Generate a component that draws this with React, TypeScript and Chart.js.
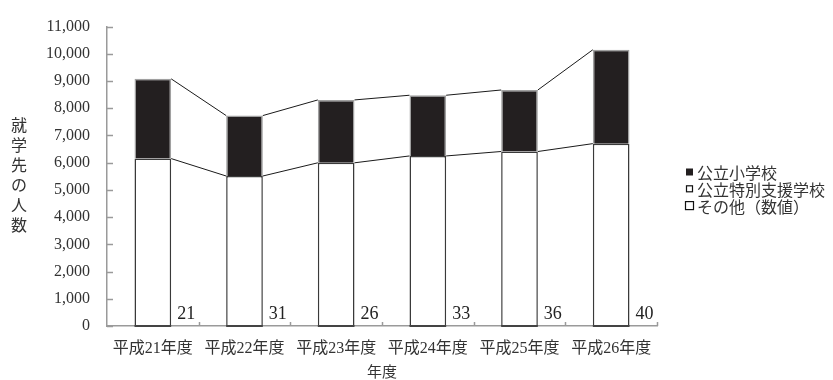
import React, { useEffect, useRef } from "react";
import { Chart, registerables } from "chart.js";

Chart.register(...registerables);

const categories = ["平成21年度", "平成22年度", "平成23年度", "平成24年度", "平成25年度", "平成26年度"];
const otherValues = [21, 31, 26, 33, 36, 40];
const specialSchoolValues = [6130, 5480, 5970, 6215, 6375, 6660];
const elementarySchoolValues = [2930, 2220, 2310, 2230, 2260, 3450];
const seriesNames = ["その他（数値）", "公立特別支援学校", "公立小学校"];
const yTitle = "就学先の人数";
const xTitle = "年度";

const SERIF = "'Liberation Serif', 'Noto Sans CJK JP', serif";
const SANS_JP = "'Noto Sans CJK JP', sans-serif";

const seriesLinesPlugin = {
  id: "seriesLines",
  afterDatasetsDraw(chart: any) {
    const ctx = chart.ctx;
    ctx.save();
    ctx.strokeStyle = "#1a1a1a";
    ctx.lineWidth = 1;
    [1, 2].forEach((di) => {
      const meta = chart.getDatasetMeta(di);
      for (let i = 0; i < meta.data.length - 1; i++) {
        const a = meta.data[i];
        const b = meta.data[i + 1];
        ctx.beginPath();
        ctx.moveTo(a.x + a.width / 2, a.y);
        ctx.lineTo(b.x - b.width / 2, b.y);
        ctx.stroke();
      }
    });
    const yBase = chart.scales.y.getPixelForValue(0);
    // dark base edge of the tiny "その他" segment
    const meta0 = chart.getDatasetMeta(0);
    ctx.strokeStyle = "#444";
    ctx.lineWidth = 2;
    meta0.data.forEach((el: any) => {
      ctx.beginPath();
      ctx.moveTo(el.x - el.width / 2, yBase);
      ctx.lineTo(el.x + el.width / 2, yBase);
      ctx.stroke();
    });
    // value labels for その他
    ctx.fillStyle = "#222";
    ctx.font = "18px " + SERIF;
    ctx.textAlign = "left";
    ctx.textBaseline = "alphabetic";
    meta0.data.forEach((el: any, i: number) => {
      ctx.fillText(String(otherValues[i]), el.x + el.width / 2 + 6, yBase - 7);
    });
    ctx.restore();
  },
};

const axisDecorPlugin = {
  id: "axisDecor",
  afterDraw(chart: any) {
    const ctx = chart.ctx;
    const { left, right, bottom } = chart.chartArea;
    const y = chart.scales.y;
    ctx.save();
    ctx.strokeStyle = "#9a9a9a";
    ctx.lineWidth = 1.5;
    y.ticks.forEach((t: any) => {
      const py = Math.round(y.getPixelForValue(t.value)) + 0.5;
      ctx.beginPath();
      ctx.moveTo(left, py);
      ctx.lineTo(left + 6, py);
      ctx.stroke();
    });
    const n = categories.length;
    const w = (right - left) / n;
    for (let i = 1; i <= n; i++) {
      const px = Math.round(left + w * i) + 0.5;
      ctx.beginPath();
      ctx.moveTo(px, bottom);
      ctx.lineTo(px, bottom - 4);
      ctx.stroke();
    }
    ctx.fillStyle = "#333";
    ctx.font = "16px " + SANS_JP;
    ctx.textAlign = "center";
    ctx.textBaseline = "middle";
    Array.from(yTitle).forEach((ch, i) => {
      ctx.fillText(ch, 19, 125 + i * 20);
    });
    const items = [2, 1, 0];
    ctx.font = "16px " + SANS_JP;
    ctx.textAlign = "left";
    items.forEach((di, k) => {
      const ds = chart.data.datasets[di];
      const cy = 172 + k * 16.8;
      const size = di === 0 ? 9 : 7;
      const bx = 686 - (di === 0 ? 1 : 0);
      ctx.fillStyle = ds.backgroundColor;
      ctx.fillRect(bx, cy - size / 2, size, size);
      if (di !== 2) {
        ctx.strokeStyle = "#111";
        ctx.lineWidth = 1.2;
        ctx.strokeRect(bx + 0.5, cy - size / 2 + 0.5, size - 1, size - 1);
      }
      ctx.fillStyle = "#333";
      ctx.fillText(ds.label, 697, cy + 1);
    });
    ctx.restore();
  },
};

export default function App() {
  const ref = useRef<HTMLCanvasElement | null>(null);
  useEffect(() => {
    let chart: any = null;
    let cancelled = false;
    const build = () => {
      if (cancelled || !ref.current) return;
      chart = new Chart(ref.current, {
        type: "bar",
        data: {
          labels: categories,
          datasets: [
            {
              label: seriesNames[0],
              data: otherValues,
              backgroundColor: "#ffffff",
              borderColor: "#444",
              borderWidth: 1,
              borderSkipped: false,
            },
            {
              label: seriesNames[1],
              data: specialSchoolValues,
              backgroundColor: "#ffffff",
              borderColor: "#3a3a3a",
              borderWidth: 1.5,
            },
            {
              label: seriesNames[2],
              data: elementarySchoolValues,
              backgroundColor: "#231f20",
              borderColor: "#a0a0a0",
              borderWidth: 1.5,
            },
          ],
        },
        options: {
          animation: false,
          responsive: false,
          maintainAspectRatio: false,
          layout: { padding: { top: 20, right: 176, left: 0, bottom: 0 } },
          datasets: { bar: { categoryPercentage: 1, barPercentage: 0.4 } },
          plugins: { legend: { display: false }, tooltip: { enabled: false } },
          scales: {
            x: {
              stacked: true,
              grid: { display: false, drawTicks: false },
              border: { display: true, color: "#9a9a9a", width: 1.5 },
              ticks: { color: "#333", font: { family: SERIF, size: 16 }, padding: 13, maxRotation: 0 },
              title: { display: true, text: xTitle, color: "#333", font: { family: SANS_JP, size: 15 }, padding: { top: 2, bottom: 0 } },
              afterFit: (s: any) => { s.height = 54; },
            },
            y: {
              stacked: true,
              min: 0,
              max: 11000,
              grid: { display: false, drawTicks: false },
              border: { display: true, color: "#9a9a9a", width: 1.5 },
              ticks: {
                stepSize: 1000,
                color: "#333",
                font: { family: SERIF, size: 16 },
                padding: 17,
                callback: (v: any) => Number(v).toLocaleString("en-US"),
              },
              afterFit: (s: any) => { s.width = 107; },
            },
          },
        },
        plugins: [seriesLinesPlugin, axisDecorPlugin],
      });
    };
    const fonts: any = (document as any).fonts;
    if (fonts && fonts.load) {
      Promise.all([
        fonts.load("16px 'Liberation Serif'"),
        fonts.load("16px 'Noto Sans CJK JP'", "平成年度公立"),
      ]).then(build, build);
    } else {
      build();
    }
    return () => {
      cancelled = true;
      if (chart) chart.destroy();
    };
  }, []);
  return (
    <div style={{ position: "fixed", left: 0, top: 0, width: 833, height: 380, background: "#fff" }}>
      <canvas ref={ref} width={833} height={380} style={{ width: 833, height: 380 }} />
    </div>
  );
}
